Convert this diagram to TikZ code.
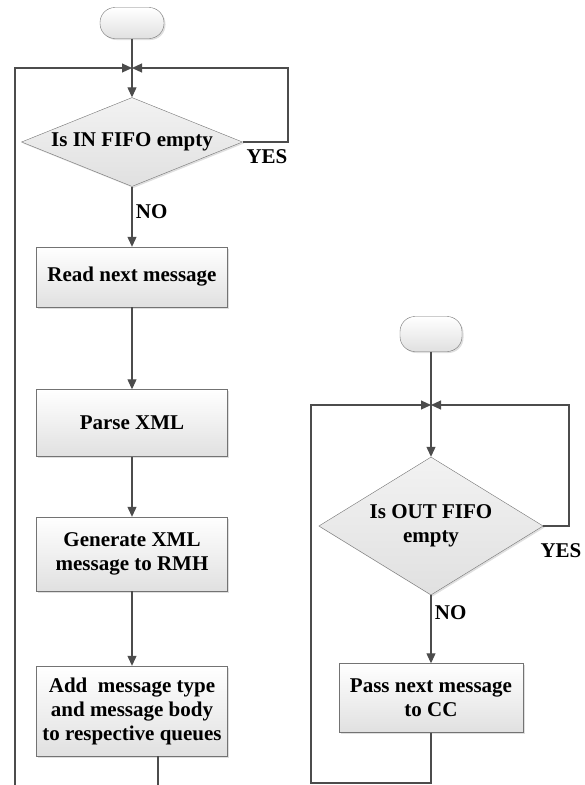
\documentclass[tikz,border=0pt]{standalone}
\usepackage{fontspec}
\setmainfont{Liberation Serif}
\usetikzlibrary{arrows.meta, shapes.geometric, shadows}

\tikzset{
  box/.style={draw=black!55, top color=white, bottom color=black!12,
    drop shadow={shadow xshift=1.5pt, shadow yshift=-1.5pt, opacity=0.25},
    minimum width=191pt, align=center, font=\bfseries\fontsize{21}{24}\selectfont},
  term/.style={box, rounded corners=15pt, minimum width=64pt, minimum height=31pt},
  test/.style={box, diamond, inner sep=0pt, aspect=2.4, top color=black!5, bottom color=black!12},
  link/.style={draw=black!70, line width=1.1pt},
  flow/.style={link, -{Triangle[length=10pt, width=9pt]}},
  lbl/.style={font=\bfseries\fontsize{21}{24}\selectfont}
}

\begin{document}
\begin{tikzpicture}[x=1pt, y=-1pt]
        \useasboundingbox (0,0) rectangle (585,785);
        \clip (0,0) rectangle (585,785);
        \node[term] (start1) at (132,23) {};
        \node[test, minimum width=221pt, minimum height=89pt] (empty1) at (132,142) {Is IN FIFO empty};
        \node[box, minimum height=60pt] (read) at (132,277) {Read next message};
        \node[box, minimum height=67pt] (parse) at (132,423) {Parse XML};
        \node[box, minimum height=74pt] (gen) at (132,554) {Generate XML\\message to RMH};
        \node[box, minimum height=90pt] (add) at (132,711) {Add\ \ message type\\and message body\\to respective queues};
        \coordinate (join1) at (132,68);
        \coordinate (yes1) at (288,68);
        \coordinate (base1) at (15,795);
        \coordinate (out1) at (158,795);
        \draw[link] (start1) -- (join1);
        \draw[flow] (join1) -- (empty1);
        \draw[flow] (empty1) -- node[lbl, right, pos=0.42] (no1) {NO} (read);
        \foreach \a/\b in {read/parse, parse/gen, gen/add}
            \draw[flow] (\a) -- (\b);
        \draw[flow] (empty1.east) -| (yes1) -- (join1);
        \node[lbl] (yeslbl1) at (267,157) {YES};
        \draw[link] (add.south -| out1) -- (out1);
        \draw[flow] (base1) |- (join1);
        \node[term, minimum width=62pt, minimum height=35pt] (start2) at (431,334) {};
        \node[test, minimum width=213pt, minimum height=138pt] (empty2) at (431,526) {Is OUT FIFO\\empty};
        \node[box, minimum width=184pt, minimum height=69pt] (pass) at (431,698) {Pass next message\\to CC};
        \coordinate (join2) at (431,405);
        \coordinate (yes2) at (569,405);
        \coordinate (base2) at (311,783);
        \draw[link] (start2) -- (join2);
        \draw[flow] (join2) -- (empty2);
        \draw[flow] (empty2) -- node[lbl, right, pos=0.25] (no2) {NO} (pass);
        \draw[flow] (empty2.east) -| (yes2) -- (join2);
        \node[lbl] (yeslbl2) at (561,551) {YES};
        \draw[flow] (pass.south) |- (base2) |- (join2);
    \end{tikzpicture}
\end{document}
